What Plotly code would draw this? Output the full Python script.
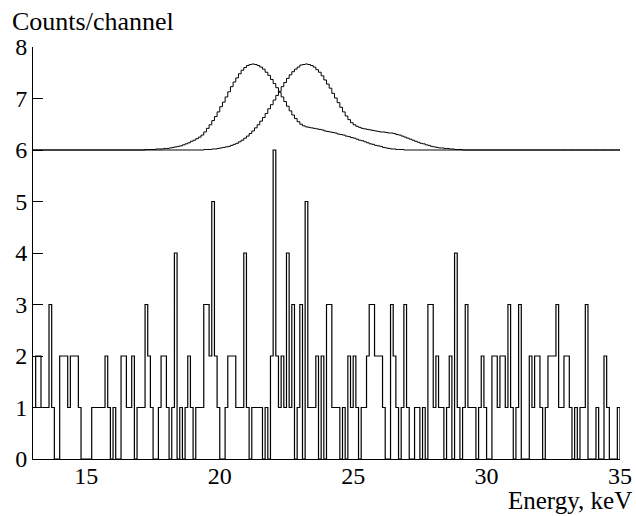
import plotly.graph_objects as go

# ---------------- data ----------------
bin_start = 13.0      # keV, first channel edge
bin_width = 0.1       # keV per channel

counts = [
    1, 2, 2, 1, 1, 1, 3, 1, 0, 0,
    2, 2, 2, 1, 2, 2, 2, 1, 0, 0,
    0, 0, 1, 1, 1, 1, 1, 2, 1, 0,
    1, 0, 0, 2, 2, 1, 1, 2, 0, 1,
    1, 1, 3, 2, 1, 0, 0, 1, 2, 2,
    1, 0, 1, 4, 0, 1, 0, 1, 2, 1,
    0, 1, 1, 1, 3, 3, 2, 5, 2, 1,
    0, 0, 1, 2, 2, 2, 1, 1, 1, 4,
    1, 0, 1, 1, 1, 1, 0, 1, 0, 2,
    6, 2, 1, 2, 1, 4, 1, 3, 0, 1,
    3, 0, 5, 1, 1, 1, 2, 0, 2, 0,
    3, 3, 1, 1, 1, 0, 1, 0, 2, 1,
    2, 1, 0, 1, 1, 2, 3, 3, 2, 2,
    2, 1, 0, 0, 3, 2, 1, 0, 1, 3,
    1, 0, 0, 1, 1, 0, 1, 0, 3, 3,
    1, 2, 1, 1, 0, 1, 2, 0, 4, 1,
    0, 1, 3, 1, 1, 1, 0, 1, 2, 1,
    0, 0, 2, 2, 1, 2, 2, 1, 3, 1,
    0, 1, 3, 0, 0, 0, 2, 1, 2, 2,
    1, 0, 1, 2, 2, 2, 3, 1, 1, 2,
    2, 1, 0, 1, 0, 1, 1, 3, 0, 0,
    0, 1, 0, 0, 2, 1, 0, 0, 0, 1,
]

curve_baseline = 6.0

curve_a_start = 17.0
curve_a = [
    6.00, 6.00, 6.01, 6.01, 6.01, 6.01, 6.02, 6.02, 6.02, 6.03,
    6.03, 6.04, 6.05, 6.06, 6.07, 6.08, 6.10, 6.12, 6.14, 6.17,
    6.19, 6.22, 6.25, 6.29, 6.35, 6.42, 6.49, 6.57, 6.65, 6.74,
    6.84, 6.93, 7.03, 7.13, 7.23, 7.32, 7.40, 7.48, 7.55, 7.60,
    7.64, 7.66, 7.67, 7.66, 7.64, 7.61, 7.57, 7.51, 7.45, 7.37,
    7.29, 7.21, 7.12, 7.03, 6.94, 6.85, 6.76, 6.68, 6.61, 6.55,
    6.50, 6.47, 6.45, 6.44, 6.43, 6.42, 6.41, 6.40, 6.39, 6.37,
    6.36, 6.35, 6.34, 6.33, 6.31, 6.30, 6.29, 6.27, 6.26, 6.24,
    6.23, 6.21, 6.19, 6.18, 6.16, 6.14, 6.12, 6.11, 6.09, 6.08,
    6.07, 6.05, 6.04, 6.03, 6.02, 6.02, 6.01, 6.01, 6.01, 6.00,
    6.00,
]

curve_b_start = 19.3
curve_b = [
    6.00, 6.01, 6.01, 6.01, 6.02, 6.02, 6.03, 6.04, 6.05, 6.06,
    6.07, 6.09, 6.11, 6.13, 6.16, 6.19, 6.23, 6.27, 6.32, 6.37,
    6.43, 6.49, 6.56, 6.63, 6.71, 6.80, 6.88, 6.97, 7.06, 7.14,
    7.23, 7.31, 7.39, 7.46, 7.52, 7.57, 7.61, 7.65, 7.66, 7.67,
    7.66, 7.64, 7.61, 7.56, 7.51, 7.44, 7.36, 7.28, 7.20, 7.10,
    7.01, 6.92, 6.83, 6.74, 6.66, 6.59, 6.53, 6.49, 6.46, 6.44,
    6.42, 6.41, 6.40, 6.39, 6.38, 6.37, 6.36, 6.35, 6.35, 6.34,
    6.33, 6.33, 6.32, 6.30, 6.29, 6.27, 6.25, 6.23, 6.21, 6.19,
    6.17, 6.15, 6.13, 6.12, 6.10, 6.09, 6.07, 6.06, 6.05, 6.04,
    6.04, 6.03, 6.03, 6.02, 6.02, 6.01, 6.01, 6.01, 6.00,
]

x_range = [13, 35]
y_range = [0, 8]
x_ticks = [15, 20, 25, 30, 35]
y_ticks = [0, 1, 2, 3, 4, 5, 6, 7, 8]
y_title = "Counts/channel"
x_title = "Energy, keV"

# ---------------- build ----------------
n = len(counts)
edges = [round(bin_start + bin_width * i, 4) for i in range(n + 1)]


def full_curve(start, vals):
    pre = int(round((start - bin_start) / bin_width))
    post = n - pre - len(vals)
    return [curve_baseline] * pre + vals + [curve_baseline] * post


FONT = "Liberation Serif"
fig = go.Figure()

for start, vals in [(curve_a_start, curve_a), (curve_b_start, curve_b)]:
    yy = full_curve(start, vals)
    fig.add_trace(go.Scatter(
        x=edges[:-1] + [edges[-1]], y=yy + [yy[-1]],
        mode="lines", line=dict(shape="hv", color="black", width=1),
        hoverinfo="skip", showlegend=False, cliponaxis=False))

fig.add_trace(go.Scatter(
    x=edges[:-1] + [edges[-1], edges[-1]], y=counts + [counts[-1], 0],
    mode="lines", line=dict(shape="hv", color="black", width=1.2),
    hoverinfo="skip", showlegend=False, cliponaxis=False))

fig.update_layout(
    width=636, height=516,
    margin=dict(l=33, r=16, t=47, b=57, autoexpand=False),
    paper_bgcolor="white", plot_bgcolor="white",
    font=dict(family=FONT, size=24, color="black"),
    showlegend=False,
    xaxis=dict(range=x_range, tickvals=x_ticks, ticks="", showgrid=False,
               zeroline=False, showline=True, linecolor="black", linewidth=1,
               automargin=False,
               tickfont=dict(family=FONT, size=24), ticklabelstandoff=-5),
    yaxis=dict(range=y_range, tickvals=y_ticks, ticks="inside", ticklen=10,
               tickcolor="black", tickwidth=1, showgrid=False, zeroline=False,
               showline=True, linecolor="black", linewidth=1,
               automargin=False,
               tickfont=dict(family=FONT, size=24), ticklabelstandoff=0),
    annotations=[
        dict(text=y_title, xref="paper", yref="paper", x=-0.04, y=1.062,
             xanchor="left", yanchor="middle", showarrow=False,
             font=dict(family=FONT, size=26)),
        dict(text=x_title, xref="paper", yref="paper", x=1.023, y=-0.1,
             xanchor="right", yanchor="middle", showarrow=False,
             font=dict(family=FONT, size=25)),
    ],
)

# remove the page's default body margin so the figure fills the window
fig.write_html(
    "out.html",
    config={"displayModeBar": False, "staticPlot": True},
    post_script="document.body.style.margin='0';document.body.style.overflow='hidden';",
)
